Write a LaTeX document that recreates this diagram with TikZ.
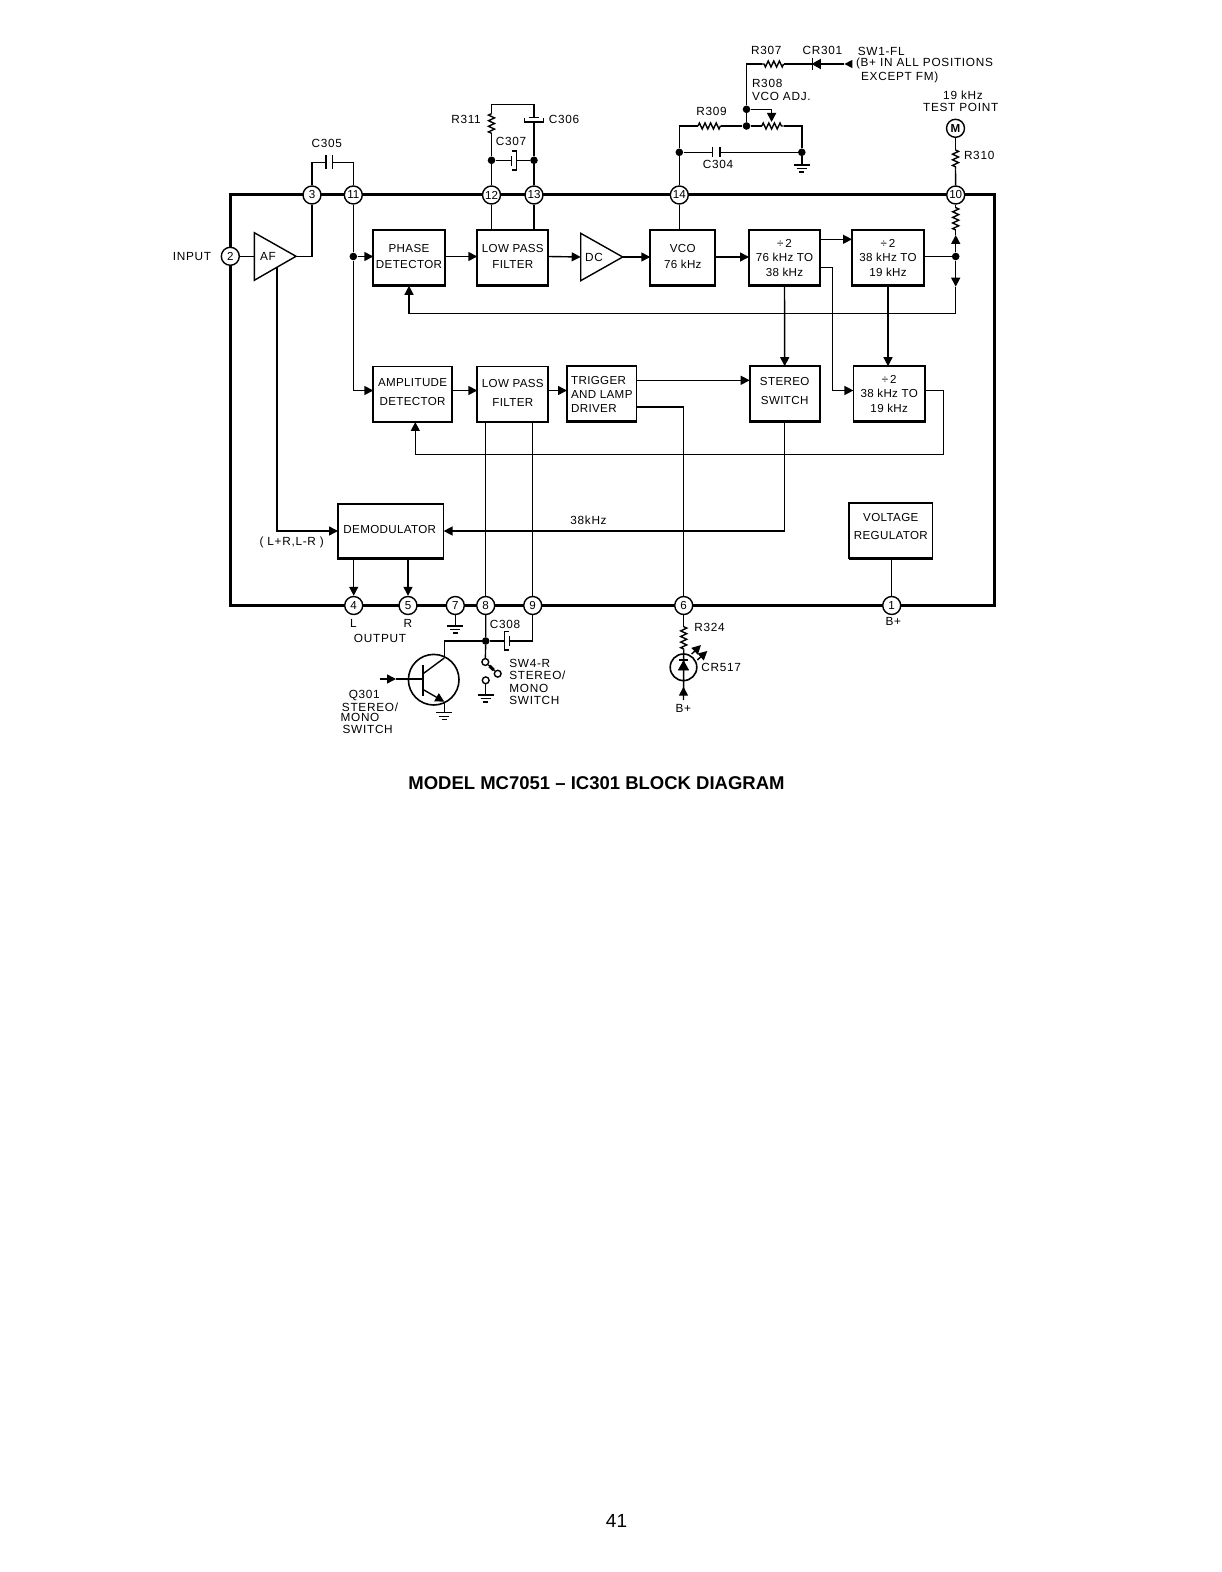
\documentclass[tikz,border=0pt]{standalone}
\usepackage{fontspec}
\setmainfont{Liberation Sans}
\newfontfamily\boxfont[LetterSpace=3]{Liberation Sans}
\newfontfamily\labfont[LetterSpace=6]{Liberation Sans}
\usetikzlibrary{positioning,calc}
\usetikzlibrary{arrows.meta,decorations.pathmorphing}
\tikzset{
  wire/.style={draw=black,line width=0.7pt},
  flow/.style={wire,-{Triangle[length=4.5pt,width=4.5pt]}},
  rev/.style={wire,{Triangle[length=4pt,width=4pt]}-},
  frame/.style={draw=black,line width=1.5pt},
  res/.style={wire,decorate,decoration={zigzag,segment length=2.8pt,amplitude=1.5pt}},
  box/.style={draw=black,line width=0.85pt,fill=white,inner sep=0pt,outer sep=0pt,align=center,
    minimum height=27.8pt,font=\boxfont\fontsize{5.8}{8}\selectfont},
  boxb/.style={box,execute at end node={\rule[-1.8pt]{0pt}{0pt}}},
  pin/.style={circle,draw=black,line width=0.7pt,fill=white,inner sep=0pt,minimum size=9pt,
    font=\fontsize{5.8}{6}\selectfont},
  dot/.style={circle,fill=black,inner sep=0pt,minimum size=3.8pt},
  cont/.style={circle,draw=black,line width=0.7pt,fill=white,inner sep=0pt,minimum size=3.4pt},
  lab/.style={inner sep=0pt,align=center,text height=4.2pt,text depth=0pt,font=\labfont\fontsize{5.9}{7}\selectfont},
  labl/.style={lab,anchor=west,align=left},
  gnd/.pic={\draw[wire] (-8,0)--(8,0) (-5,3.6)--(5,3.6) (-2.5,7)--(2.5,7);},
}
\begin{document}
\begin{tikzpicture}[x=0.5pt,y=-0.5pt]
\useasboundingbox (0,0) rectangle (1221,1572);
\coordinate (upper) at (0,256.5);
\coordinate (lower) at (0,390.5);
\draw[frame] (230.3,195) rectangle (994,605.5);
\foreach \n/\x/\y in {1/891.7/605.5,2/230.3/256.3,3/312/195,4/353.7/605.5,5/408/605.5,6/683.7/605.5,
  7/455.3/605.5,8/485.7/605.5,9/532.7/605.5,10/955.7/195,11/353.3/195,12/491.5/195,13/534/195,14/679.3/195}
  \node[pin] (p\n) at (\x,\y) {\n};
% blocks
\node[boxb,minimum width=35.7pt] (phase) at (409,258) {PHASE\hspace{1pt}\\DETECTOR\hspace{1pt}};
\node[boxb,minimum width=35.5pt] (lpfa) at (512.8,258) {LOW PASS\\FILTER};
\node[boxb,minimum width=32.5pt] (vco) at (682.8,258) {VCO\hspace{2pt}\\76 kHz\hspace{2pt}};
\node[box,minimum width=35.5pt] (diva) at (784.5,258) {÷\,2\hspace{3pt}\\[-1pt]76 kHz TO\\[-0.5pt]38 kHz\hspace{3pt}};
\node[box,minimum width=36pt] (divb) at (888,258) {÷\,2\\[-1pt]38 kHz TO\\[-0.5pt]19 kHz};
\node[boxb,minimum width=39.3pt] (amp) at (412.6,394.3) {AMPLITUDE\hspace{1pt}\\[1.5pt]DETECTOR};
\node[boxb,minimum width=35.5pt] (lpfb) at (512.8,394.3) {LOW PASS\hspace{2pt}\\[1.5pt]FILTER\hspace{2pt}};
\node[box,minimum width=34.8pt,align=left] (trig) at (601.8,394) {TRIGGER\\[-1pt]AND LAMP\\[-1pt]DRIVER};
\node[boxb,minimum width=35pt,execute at end node={\rule[-3pt]{0pt}{0pt}}] (stereo) at (784.7,394) {STEREO\\[1.5pt]SWITCH};
\node[box,minimum width=35.8pt] (divc) at (889.2,394) {÷\,2\hspace{5pt}\\[-1pt]38 kHz TO\\[-0.5pt]19 kHz};
\node[boxb,minimum width=52.8pt,minimum height=27.5pt] (demod) at (390.8,531.2) {DEMODULATOR\hspace{1pt}};
\node[box,minimum width=41.8pt,execute at end node={\rule[-4pt]{0pt}{0pt}}] (volt) at (890.8,530.5) {VOLTAGE\\[1pt]REGULATOR};
\foreach \b in {phase,lpfa,vco,diva,divb,amp,lpfb,trig,stereo,divc,demod,volt}
  \draw[line width=1.3pt] (\b.south west)--(\b.south east);
% amplifiers
\coordinate (afw) at (254.3,256.3);
\coordinate (aft) at (296,256.3);
\coordinate (afb) at (277,267.2);
\coordinate (dcw) at (580.7,257);
\coordinate (dct) at (622.7,257);
\draw[wire] (254.3,232.7)--(254.3,280.3)--(aft)--cycle;
\draw[wire] (dcw |- 0,233.3)--(dcw |- 0,280.7)--(dct)--cycle;
\node[lab] (aflab) at (268,256) {AF};
\node[lab] (dclab) at (594,257) {DC};
\draw[wire] (p2)--(afw);
\draw[wire] (aft)-|(p3);
\draw[flow] (afb)|-(demod.west |- 0,531);
% upper chain
\node[dot] (j11) at (353.3,256.5) {};
\draw[wire] (p11)--(j11);
\draw[flow] (j11)--(phase.west |- j11);
\draw[flow] (j11)|-(amp.west |- lower);
\draw[flow] (phase.east |- upper)--(lpfa.west |- upper);
\draw[flow] (lpfa.east |- upper)--(dcw);
\draw[flow] (dct)--(vco.west |- dct);
\draw[flow] (vco.east |- dct)--(diva.west |- dct);
\draw[flow] (diva.east |- 0,239.3)--(divb.west |- 0,239.3);
\draw[wire] (p12)--(p12 |- lpfa.north);
\draw[wire] (p13)--(p13 |- lpfa.north);
\draw[wire] (p14)--(p14 |- vco.north);
\node[dot] (jdiv) at (955.7,256.5) {};
\coordinate (tipup) at (955.7,235);
\coordinate (tipdn) at (955.7,286.7);
\coordinate (r10a) at (955.7,207);
\coordinate (r10b) at (955.7,230);
\coordinate (fbr) at (955.7,313.3);
\draw[wire] (divb.east |- upper)--(jdiv);
\draw[flow] (jdiv)--(tipup);
\draw[wire] (tipup)--(r10b);
\draw[res] (r10b)--(r10a);
\draw[wire] (r10a)--(p10);
\draw[flow] (jdiv)--(tipdn);
\draw[flow] (tipdn)--(fbr)-|(phase.south);
% lower chain
\coordinate (ampin) at (415.3,422);
\coordinate (fbc) at (943.3,454.3);
\draw[flow] (amp.east |- lower)--(lpfb.west |- lower);
\draw[flow] (lpfb.east |- lower)--(trig.west |- lower);
\draw[flow] (trig.east |- 0,380.3)--(stereo.west |- 0,380.3);
\draw[wire] (trig.east |- 0,407)-|(p6);
\draw[flow] (diva.south)--(stereo.north);
\draw[flow] (divb.south)--(divb.south |- divc.north);
\draw[flow] (diva.east |- 0,267.3)--(832.7,267.3)|-(divc.west |- lower);
\draw[flow] (divc.east |- lower)-|(fbc)-|(ampin);
\draw[flow] (stereo.south)|-(demod.east |- 0,531);
\draw[wire] (p8 |- lpfb.south)--(p8);
\draw[wire] (p9 |- lpfb.south)--(p9);
\draw[flow] (p4 |- demod.south)--(p4);
\draw[flow] (p5 |- demod.south)--(p5);
\draw[wire] (p1)--(p1 |- volt.south);
% C305
\coordinate (c305a) at (326,162.3);
\coordinate (c305b) at (332.7,162.3);
\draw[wire] (p3)|-(c305a);
\draw[wire] (p11)|-(c305b);
\draw[wire] (c305a |- 0,155)--(c305a |- 0,169.5) (c305b |- 0,155)--(c305b |- 0,169.5);
% R311, C306, C307
\node[dot] (j12) at (491.5,160.3) {};
\node[dot] (j13) at (534,160.3) {};
\coordinate (r311a) at (491.5,113.3);
\coordinate (r311b) at (491.5,133.3);
\coordinate (c306a) at (534,117.3);
\coordinate (c306b) at (534,122);
\coordinate (c307a) at (511.7,160.3);
\coordinate (c307b) at (516.7,160.3);
\draw[wire] (p12)--(j12)--(r311b);
\draw[res] (r311b)--(r311a);
\draw[wire] (r311a)--(491.5,104.7)--(534,104.7)--(c306a);
\draw[wire] (p13)--(j13)--(c306b);
\draw[wire] (529,117.3)--(539,117.3);
\draw[wire] (524.4,118.5)--(524.4,122)--(543.6,122)--(543.6,118.5);
\draw[wire] (j12)--(c307a);
\draw[wire] (c307b)--(j13);
\draw[wire] (511.7,156)--(511.7,166);
\draw[wire] (511.7,151)--(516.7,151)--(516.7,170)--(511.7,170);
% VCO network
\node[dot] (j14) at (679.3,152.3) {};
\node[dot] (jgnd) at (801.8,152.3) {};
\node[dot] (jadj) at (746.5,109.3) {};
\node[dot] (jvco) at (746.5,126) {};
\coordinate (r309a) at (698,126);
\coordinate (r309b) at (720.7,126);
\coordinate (potb) at (761.8,126);
\coordinate (pote) at (783.6,126);
\coordinate (c304a) at (712.7,152.3);
\coordinate (c304b) at (720,152.3);
\coordinate (sw1) at (851,64);
\coordinate (cr301a) at (820.4,64);
\coordinate (cr301b) at (812.4,64);
\coordinate (r307a) at (783.6,64);
\coordinate (r307b) at (761.8,64);
\draw[wire] (p14)--(j14)|-(r309a);
\draw[res] (r309a)--(r309b);
\draw[wire] (r309b)--(jvco)--(potb);
\draw[res] (potb)--(pote);
\draw[wire] (pote)-|(jgnd);
\draw[wire] (j14)--(c304a);
\draw[wire] (c304b)--(jgnd);
\draw[wire] (c304a |- 0,146.7)--(c304a |- 0,157.3) (c304b |- 0,146.7)--(c304b |- 0,157.3);
\draw[wire] (jgnd)--(801.8,165);
\pic at (801.8,165) {gnd};
\draw[wire] (jvco)--(jadj);
\draw[flow] (jadj)-|(771.6,122);
\draw[rev] (844.4,64)--(sw1);
\draw[wire] (844.4,64)--(cr301a);
\draw[fill=black] (cr301a |- 0,59.5)--(cr301a |- 0,68.5)--(cr301b)--cycle;
\draw[wire] (cr301b |- 0,58)--(cr301b |- 0,70);
\draw[wire] (cr301b)--(r307a);
\draw[res] (r307a)--(r307b);
\draw[wire] (r307b)-|(jadj);
% test point
\node[pin] (tp) at (955.5,128.3) {\bfseries M};
\coordinate (r310a) at (955.5,150);
\coordinate (r310b) at (955.5,169.3);
\draw[wire] (tp)--(r310a);
\draw[res] (r310a)--(r310b);
\draw[wire] (r310b)--(p10);
% bottom: ground, C308, switch
\draw[wire] (p7)--(455.3,626);
\pic at (455.3,626) {gnd};
\node[dot] (j8) at (485.7,641) {};
\coordinate (c308a) at (504.3,641);
\coordinate (c308b) at (509.3,641);
\node[cont] (swa) at (485.3,662) {};
\node[cont] (swb) at (497.7,673.7) {};
\node[cont] (swc) at (485.7,680.3) {};
\draw[wire] (p8)--(j8)--(swa);
\draw[wire] (j8)--(c308a);
\draw[wire] (c308b)-|(p9);
\draw[wire] (c308b |- 0,635.7)--(c308b |- 0,646);
\draw[wire] (509,631.7)--(504.3,631.7)--(504.3,650)--(509,650);
\draw[wire] (swa)--(swb);
\draw[line width=1.6pt] (489.5,666)--(493.5,669.8);
\draw[wire] (swc)--(485.7,695);
\pic at (485.7,695) {gnd};
% transistor
\node[circle,draw=black,line width=0.8pt,inner sep=0pt,minimum size=25.3pt] (q301) at (433.7,679.7) {};
\coordinate (qb) at (422.7,679);
\coordinate (qc) at (444.3,658);
\coordinate (qe) at (444.3,701.7);
\draw[wire] (j8)-|(qc);
\draw[wire] (qc)--(qb |- 0,674);
\draw[line width=0.9pt] (qb |- 0,665)--(qb |- 0,695.7);
\draw[flow] (380,679)--(396,679);
\draw[wire] (396,679)--(qb);
\draw[flow] (qb |- 0,689.3)--(qe);
\draw[wire] (qe)--(444.3,712.7);
\pic at (444.3,712.7) {gnd};
% lamp
\node[circle,draw=black,line width=0.8pt,inner sep=0pt,minimum size=13.3pt] (cr517) at (683.5,667.3) {};
\coordinate (r324a) at (683.7,626.7);
\coordinate (r324b) at (683.7,649.3);
\draw[wire] (p6)--(r324a);
\draw[res] (r324a)--(r324b);
\draw[wire] (r324b)--(683.5,700);
\draw[fill=black] (678.5,670)--(688.5,670)--(683.5,661)--cycle;
\draw[line width=0.9pt] (679,660)--(688,660);
\draw[flow] (683.5,700)--(683.5,686.7);
\draw[flow] (691.7,654)--(701,645);
\draw[flow] (697.3,660)--(707.3,651);
% labels
\node[lab] (lr307) at (766.2,50) {R307};
\node[lab] (lcr301) at (822.5,50) {CR301};
\node[labl] (lsw1) at (857.5,51) {SW1-FL};
\node[labl] (lsw1b) at (855.6,62.7) {(B+ IN ALL POSITIONS};
\node[labl] (lsw1c) at (860.7,76.3) {EXCEPT FM)};
\node[labl] (lr308) at (751.6,83.3) {R308};
\node[labl] (lr308b) at (751.6,96) {VCO ADJ.};
\node[lab] (lr309) at (711.6,111.3) {R309};
\node[lab] (lc304) at (718,164.3) {C304};
\node[lab] (ltp) at (963,95) {19 kHz};
\node[lab] (ltpb) at (960.7,107) {TEST POINT};
\node[labl] (lr310) at (963.6,155) {R310};
\node[lab] (lr311) at (466,119.3) {R311};
\node[labl] (lc306) at (548.4,119) {C306};
\node[lab] (lc307) at (511,141.7) {C307};
\node[lab] (lc305) at (326.7,143.7) {C305};
\node[lab] (linput) at (192,256) {INPUT};
\node[lab] (l38) at (588.5,520) {38kHz};
\node[lab] (lsum) at (291.7,541.7) {( L+R,L-R )};
\node[lab] (ll) at (353.3,623.7) {L};
\node[lab] (lrr) at (408,623.7) {R};
\node[lab] (lout) at (380,638.3) {OUTPUT};
\node[lab] (lc308) at (505,624) {C308};
\node[labl] (lsw4) at (509,663.3) {SW4-R};
\node[labl] (lsw4b) at (509,675.7) {STEREO/};
\node[labl] (lsw4c) at (509,688.3) {MONO};
\node[labl] (lsw4d) at (509,700.3) {SWITCH};
\node[lab] (lq) at (364.3,694.3) {Q301};
\node[lab] (lqb) at (370,707) {STEREO/};
\node[lab] (lqc) at (360,717.7) {MONO};
\node[lab] (lqd) at (367.7,729) {SWITCH};
\node[labl] (lr324) at (694,627) {R324};
\node[labl] (lcr517) at (701,667.7) {CR517};
\node[lab] (lbp) at (683.3,708.3) {B+};
\node[lab] (lbpb) at (893.3,621) {B+};
\node[inner sep=0pt,text height=6.6pt,text depth=0pt,font=\fontsize{9.25}{11}\selectfont\bfseries] (title) at (596.5,783) {MODEL MC7051 -- IC301 BLOCK DIAGRAM};
\node[inner sep=0pt,font=\fontsize{9.5}{11}\selectfont] (pageno) at (616.5,1521) {41};
\end{tikzpicture}
\end{document}
